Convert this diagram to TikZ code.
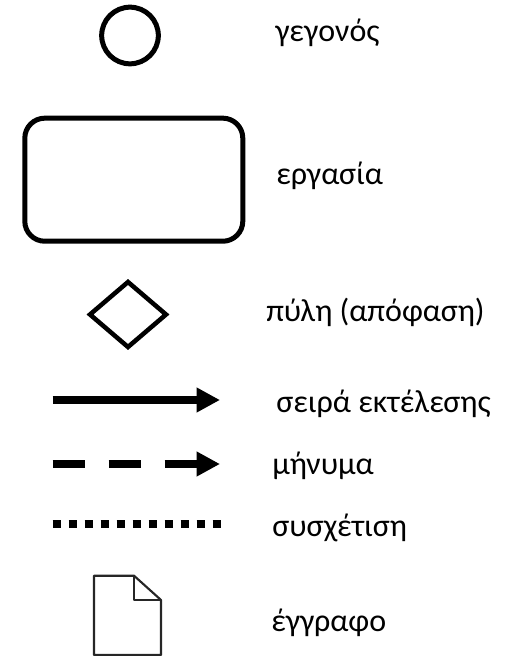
\documentclass[tikz,border=0pt]{standalone}
\usepackage{fontspec}
\setmainfont{Carlito}
\usetikzlibrary{arrows.meta}
\tikzset{
  x=0.75pt,y=-0.75pt,
  lbl/.style={anchor=base west,inner sep=0pt,font=\fontsize{24pt}{28pt}\selectfont},
  sym/.style={draw=black,line width=3.75pt,fill=white},
  flow/.style={line width=6pt,-{Triangle[length=17.5pt,width=17.5pt]}},
  msg/.style={line width=6pt,dash pattern=on 24pt off 18pt,-{Triangle[length=17.5pt,width=17.5pt]}},
  doc/.style={draw=black!85,line width=1.6pt,line join=round}
}
\begin{document}
\begin{tikzpicture}
\useasboundingbox (0,0) rectangle (505,656);
\node[sym,circle,minimum size=42.5pt,inner sep=0pt] (ev) at (130,35.5) {};
\node[sym,rounded corners=15pt,minimum width=163.5pt,minimum height=92.3pt,inner sep=0pt] (task) at (133.8,179.7) {};
\draw[sym,line width=3.4pt,line join=miter] (128,282) -- (166,314.5) -- (128,347) -- (90,314.5) -- cycle;
\coordinate (f1) at (52.7,400); \coordinate (f2) at (220,400);
\draw[flow] (f1) -- (f2);
\coordinate (m1) at (52.7,464); \coordinate (m2) at (220,464);
\draw[msg] (m1) -- (m2);
\coordinate (s1) at (52.7,523.7); \coordinate (s2) at (221,523.7);
\draw[line width=6pt,dash pattern=on 6pt off 6pt] (s1) -- (s2);
\draw[doc] (94,575.7) -- (134,575.7) -- (161,600) -- (161,655) -- (94,655) -- cycle;
\draw[doc] (134,575.7) -- (134,600) -- (161,600);
\node[lbl] (t1) at (275,41.7) {γεγονός};
\node[lbl] (t2) at (276,184) {εργασία};
\node[lbl] (t3) at (266,321.7) {πύλη (απόφαση)};
\node[lbl] (t4) at (276,412) {σειρά εκτέλεσης};
\node[lbl] (t5) at (272,474) {μήνυμα};
\node[lbl] (t6) at (272,536.7) {συσχέτιση};
\node[lbl] (t7) at (271,631.7) {έγγραφο};
\end{tikzpicture}
\end{document}
